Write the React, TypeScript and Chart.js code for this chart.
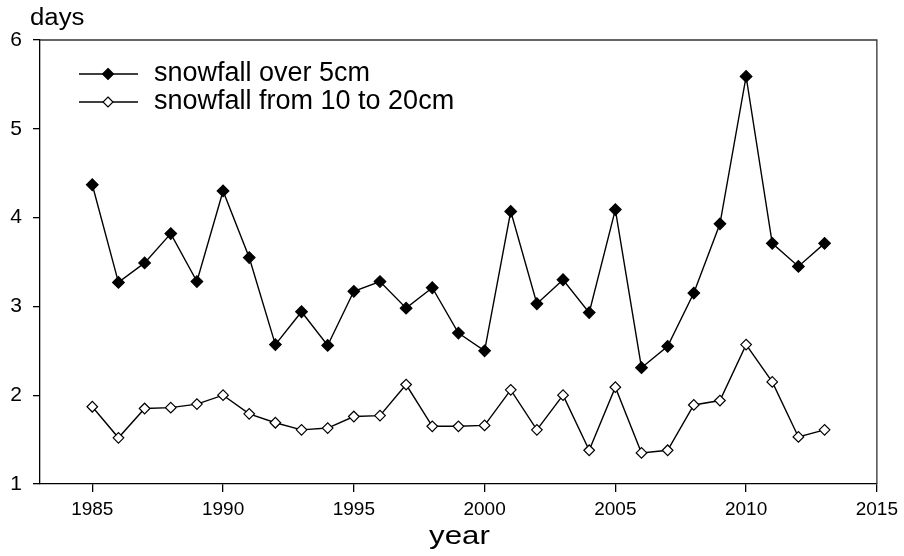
import React, { useEffect, useRef } from "react";
import { Chart, registerables } from "chart.js";

Chart.register(...registerables);

const years = [
  1985, 1986, 1987, 1988, 1989, 1990, 1991, 1992, 1993, 1994, 1995, 1996, 1997, 1998, 1999,
  2000, 2001, 2002, 2003, 2004, 2005, 2006, 2007, 2008, 2009, 2010, 2011, 2012, 2013,
];
const over5cm = [
  4.37, 3.27, 3.49, 3.82, 3.28, 4.3, 3.55, 2.57, 2.94, 2.56, 3.17, 3.28, 2.98, 3.21, 2.7,
  2.5, 4.07, 3.03, 3.3, 2.93, 4.09, 2.31, 2.55, 3.15, 3.93, 5.59, 3.71, 3.45, 3.71,
];
const from10to20cm = [
  1.87, 1.52, 1.85, 1.86, 1.9, 2.0, 1.79, 1.69, 1.61, 1.63, 1.76, 1.77, 2.12, 1.65, 1.65,
  1.66, 2.06, 1.61, 2.0, 1.38, 2.09, 1.35, 1.38, 1.89, 1.94, 2.57, 2.15, 1.53, 1.61,
];
const xTicks = [1985, 1990, 1995, 2000, 2005, 2010, 2015];
const yTicks = [1, 2, 3, 4, 5, 6];
const seriesNames = ["snowfall over 5cm", "snowfall from 10 to 20cm"];
const yTitle = "days";
const xTitle = "year";

const FONT = "'Liberation Sans', Arial, sans-serif";

function drawText(ctx: any, text: string, x: number, y: number, size: number, sx: number, align: string) {
  ctx.save();
  ctx.font = `${size}px ${FONT}`;
  ctx.textAlign = align;
  ctx.textBaseline = "middle";
  ctx.fillStyle = "#000";
  ctx.translate(x, y);
  ctx.scale(sx, 1);
  ctx.fillText(text, 0, 0);
  ctx.restore();
}

const decorPlugin = {
  id: "decor",
  afterDraw(chart: any) {
    const { ctx, chartArea } = chart;
    const { left, right, top, bottom } = chartArea;
    ctx.save();
    // frame top and right
    ctx.strokeStyle = "#333";
    ctx.lineWidth = 1.3;
    ctx.beginPath();
    ctx.moveTo(left, top);
    ctx.lineTo(right, top);
    ctx.lineTo(right, bottom);
    ctx.stroke();

    // axis titles
    drawText(ctx, yTitle, 30, 19, 23, 1.12, "left");
    drawText(ctx, xTitle, (left + right) / 2 + 1, 537, 26, 1.2, "center");

    // legend
    const rows = [
      { y: 74, fill: "#000", label: seriesNames[0], r: 5.5 },
      { y: 102, fill: "#fff", label: seriesNames[1], r: 5 },
    ];
    rows.forEach((row) => {
      ctx.strokeStyle = "#000";
      ctx.lineWidth = 1.3;
      ctx.beginPath();
      ctx.moveTo(79, row.y);
      ctx.lineTo(138, row.y);
      ctx.stroke();
      ctx.beginPath();
      ctx.moveTo(108, row.y - row.r);
      ctx.lineTo(108 + row.r, row.y);
      ctx.lineTo(108, row.y + row.r);
      ctx.lineTo(108 - row.r, row.y);
      ctx.closePath();
      ctx.fillStyle = row.fill;
      ctx.fill();
      ctx.lineWidth = 1.2;
      ctx.stroke();
      drawText(ctx, row.label, 154, row.y - 0.5, 27, 1.0, "left");
    });
    ctx.restore();
  },
};

export default function App() {
  const ref = useRef<HTMLCanvasElement | null>(null);

  useEffect(() => {
    if (!ref.current) return;
    const chart = new Chart(ref.current, {
      type: "line",
      data: {
        datasets: [
          {
            label: seriesNames[0],
            data: years.map((y, i) => ({ x: y, y: over5cm[i] })),
            borderColor: "#000",
            borderWidth: 1.4,
            pointStyle: "rectRot",
            pointRadius: 5.8,
            pointBackgroundColor: "#000",
            pointBorderColor: "#000",
            pointBorderWidth: 1.2,
            tension: 0,
          },
          {
            label: seriesNames[1],
            data: years.map((y, i) => ({ x: y, y: from10to20cm[i] })),
            borderColor: "#000",
            borderWidth: 1.4,
            pointStyle: "rectRot",
            pointRadius: 5.3,
            pointBackgroundColor: "#fff",
            pointBorderColor: "#000",
            pointBorderWidth: 1.2,
            tension: 0,
          },
        ],
      },
      options: {
        responsive: false,
        animation: false,
        devicePixelRatio: 1,
        layout: { padding: { top: 40, right: 24, left: 0, bottom: 0 } },
        plugins: { legend: { display: false }, tooltip: { enabled: false } },
        scales: {
          x: {
            type: "linear",
            min: 1983,
            max: 2015,
            afterBuildTicks: (scale: any) => {
              scale.ticks = xTicks.map((v) => ({ value: v }));
            },
            afterFit: (scale: any) => {
              scale.height = 72;
            },
            border: { display: true, color: "#000", width: 1.3 },
            grid: {
              drawOnChartArea: false,
              drawTicks: true,
              tickLength: 8,
              color: "#000",
              lineWidth: 1.3,
            },
            ticks: {
              color: "#000",
              font: { family: FONT, size: 19 },
              padding: 6,
              maxRotation: 0,
              callback: (v: any) => String(v),
            },
          },
          y: {
            type: "linear",
            min: 1,
            max: 6,
            afterBuildTicks: (scale: any) => {
              scale.ticks = yTicks.map((v) => ({ value: v }));
            },
            afterFit: (scale: any) => {
              scale.width = 40;
            },
            border: { display: true, color: "#000", width: 1.3 },
            grid: {
              drawOnChartArea: false,
              drawTicks: true,
              tickLength: 7,
              color: "#000",
              lineWidth: 1.3,
            },
            ticks: {
              color: "#000",
              font: { family: FONT, size: 21 },
              padding: 11,
              callback: (v: any) => String(v),
            },
          },
        },
      },
      plugins: [decorPlugin],
    } as any);
    return () => chart.destroy();
  }, []);

  return (
    <div style={{ position: "fixed", left: 0, top: 0, width: 904, height: 556, background: "#fff" }}>
      <canvas ref={ref} width={904} height={556} style={{ width: 904, height: 556 }} />
    </div>
  );
}
